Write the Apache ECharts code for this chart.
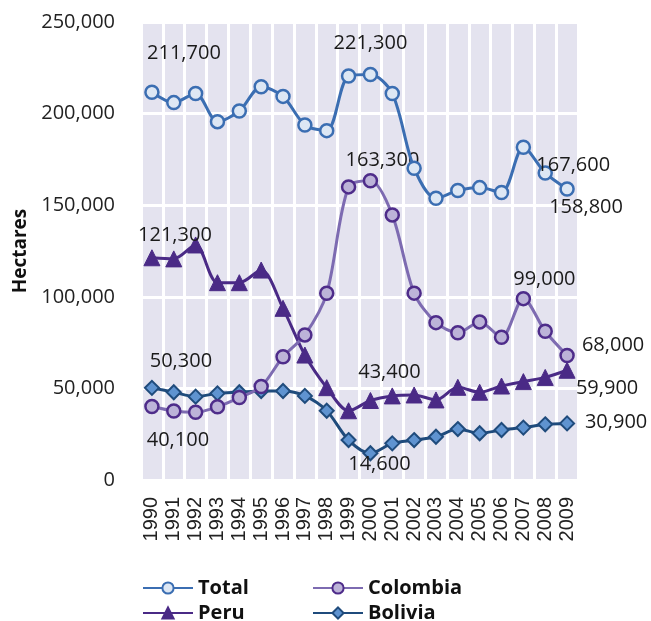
<!DOCTYPE html>
<html>
<head>
<meta charset="utf-8">
<script src="https://cdn.jsdelivr.net/npm/echarts@6/dist/echarts.min.js"></script>
<style>
  html, body { margin: 0; padding: 0; background: #fff; }
  #chart { width: 651px; height: 621px; }
</style>
</head>
<body>
<div id="chart"></div>
<script>
// 年份
var years = ['1990','1991','1992','1993','1994','1995','1996','1997','1998','1999',
             '2000','2001','2002','2003','2004','2005','2006','2007','2008','2009'];

// 各系列数值（公顷）
var total    = [211700,206000,211000,195600,201400,214700,209400,193800,190700,220500,
                221300,211000,170200,153800,158000,159600,156900,181600,167600,158800];
var colombia = [40100,37700,37000,40000,45000,51000,67300,79200,101900,160000,
                163300,144700,102000,85900,80400,86300,77900,99000,81200,68000];
var peru     = [121300,120700,128300,107700,107700,114600,93700,68200,50400,37800,
                43400,45900,46400,43700,50600,47900,51300,53700,56000,59900];
var bolivia  = [50300,47900,45500,47300,47900,48600,48600,45900,37800,21800,
                14600,20000,21800,23600,27800,25500,27300,28600,30400,30900];

var yTicks = [0, 50000, 100000, 150000, 200000, 250000];

// 需要显示数值标签的点：下标 -> 偏移
var labelSpots = {
    'Total':    { 0: [32, -39], 10: [0, -31], 18: [28, -8], 19: [19, 18] },
    'Colombia': { 0: [26, 34], 10: [12, -21], 17: [21, -19], 19: [46, -10] },
    'Peru':     { 0: [23, -22], 10: [19, -28], 19: [40, 18] },
    'Bolivia':  { 0: [29, -27], 10: [9, 11], 19: [49, -1] }
};

function fmt(v) {
    return v.toLocaleString('en-US');
}

function buildData(name, values) {
    var spots = labelSpots[name] || {};
    return values.map(function (v, i) {
        if (spots[i]) {
            return {
                value: v,
                label: {
                    show: true,
                    position: 'inside',
                    offset: spots[i],
                    formatter: function (p) { return fmt(p.value); },
                    fontFamily: 'Open Sans',
                    fontSize: 20,
                    color: '#1a1a1a'
                }
            };
        }
        return v;
    });
}

var myChart = echarts.init(document.getElementById('chart'), null, { renderer: 'canvas' });

var legendText = { fontFamily: 'Open Sans', fontSize: 20, fontWeight: 'bold', color: '#111' };
function oneLegend(name, left, top) {
    return {
        data: [name],
        left: left,
        top: top,
        padding: 0,
        itemWidth: 50,
        itemHeight: 14,
        itemGap: 0,
        textStyle: legendText,
        selectedMode: false
    };
}

myChart.setOption({
    animation: false,
    legend: [
        oneLegend('Total', 142, 578),
        oneLegend('Colombia', 312, 578),
        oneLegend('Peru', 142, 603),
        oneLegend('Bolivia', 312, 603)
    ],
    grid: {
        left: 141,
        right: 73,
        top: 22,
        bottom: 141,
        show: true,
        backgroundColor: '#e4e3ef',
        borderWidth: 0
    },
    xAxis: {
        type: 'category',
        data: years,
        boundaryGap: true,
        axisLine: { show: false },
        axisTick: { show: false },
        axisLabel: {
            rotate: 90,
            margin: 17,
            interval: 0,
            fontFamily: 'Liberation Sans',
            fontSize: 20,
            color: '#222'
        },
        splitLine: { show: true, interval: 0, lineStyle: { color: '#ffffff', width: 3 } }
    },
    yAxis: {
        type: 'value',
        min: yTicks[0],
        max: yTicks[yTicks.length - 1],
        interval: 50000,
        name: 'Hectares',
        nameLocation: 'middle',
        nameGap: 106,
        nameTextStyle: { fontFamily: 'Open Sans', fontSize: 19, fontWeight: 'bold', color: '#111' },
        axisLine: { show: false },
        axisTick: { show: false },
        axisLabel: {
            margin: 26,
            fontFamily: 'Open Sans',
            fontSize: 20,
            color: '#222',
            formatter: function (v) { return fmt(v); }
        },
        splitLine: { show: true, lineStyle: { color: '#ffffff', width: 3 } }
    },
    series: [
        {
            name: 'Total',
            type: 'line',
            smooth: 0.3,
            data: buildData('Total', total),
            symbol: 'circle',
            symbolSize: 13,
            lineStyle: { color: '#3b6eb2', width: 3 },
            itemStyle: { color: '#dde7f4', borderColor: '#3b6eb2', borderWidth: 2.5 },
            z: 4
        },
        {
            name: 'Colombia',
            type: 'line',
            smooth: 0.3,
            data: buildData('Colombia', colombia),
            symbol: 'circle',
            symbolSize: 13,
            lineStyle: { color: '#7d6bb1', width: 3 },
            itemStyle: { color: '#bcb3d8', borderColor: '#4e2c8a', borderWidth: 2.5 },
            z: 3
        },
        {
            name: 'Peru',
            type: 'line',
            smooth: 0.3,
            data: buildData('Peru', peru),
            symbol: 'triangle',
            symbolSize: 16,
            lineStyle: { color: '#4a2a86', width: 3 },
            itemStyle: { color: '#4a2a86', borderColor: '#4a2a86', borderWidth: 1 },
            z: 2
        },
        {
            name: 'Bolivia',
            type: 'line',
            smooth: 0.3,
            data: buildData('Bolivia', bolivia),
            symbol: 'diamond',
            symbolSize: 14,
            lineStyle: { color: '#1f4b7c', width: 3 },
            itemStyle: { color: '#5f93d0', borderColor: '#1f4b7c', borderWidth: 2 },
            z: 1
        }
    ]
});
</script>
</body>
</html>
